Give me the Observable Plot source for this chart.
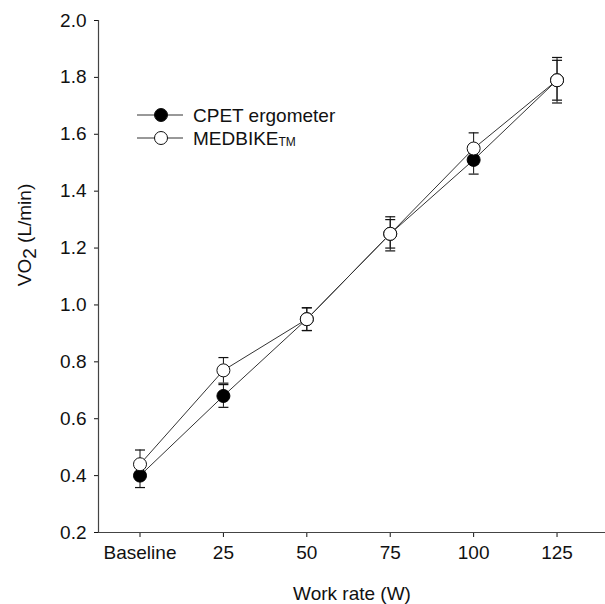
<!DOCTYPE html>
<html>
<head>
<meta charset="utf-8">
<script src="https://cdn.jsdelivr.net/npm/d3@7"></script>
<script src="https://cdn.jsdelivr.net/npm/@observablehq/plot@0.6"></script>
<style>
  html, body { margin: 0; padding: 0; background: #fff; }
  #chart { width: 605px; height: 604px; }
  svg { font-family: "Liberation Sans", Arial, Helvetica, sans-serif; }
</style>
</head>
<body>
<div id="chart"></div>
<script>
// ---- data ----
const categories = ["Baseline", "25", "50", "75", "100", "125"];
const cpetMean = [0.40, 0.68, 0.95, 1.25, 1.51, 1.79];
const cpetErr  = [0.042, 0.04, 0.04, 0.05, 0.05, 0.07];
const medMean  = [0.44, 0.77, 0.95, 1.25, 1.55, 1.79];
const medErr   = [0.05, 0.045, 0.04, 0.06, 0.055, 0.08];
const yTicks   = [0.2, 0.4, 0.6, 0.8, 1.0, 1.2, 1.4, 1.6, 1.8, 2.0];

const rows = [];
categories.forEach((c, i) => {
  rows.push({series: "MEDBIKE", i, c, v: medMean[i], lo: medMean[i] - medErr[i], hi: medMean[i] + medErr[i]});
});
categories.forEach((c, i) => {
  rows.push({series: "CPET", i, c, v: cpetMean[i], lo: cpetMean[i] - cpetErr[i], hi: cpetMean[i] + cpetErr[i]});
});
const cpet = rows.filter(d => d.series === "CPET");
const med = rows.filter(d => d.series === "MEDBIKE");

const capSymbol = { draw(ctx) { ctx.moveTo(-5, 0); ctx.lineTo(5, 0); } };
const xDomain = [-0.4976, 5.581];
const lineColor = "#333";

const plot = Plot.plot({
  width: 605,
  height: 604,
  marginLeft: 98,
  marginRight: 0,
  marginTop: 20,
  marginBottom: 72,
  style: { fontFamily: "Liberation Sans, Arial, sans-serif", fontSize: "19px", color: "#111", background: "#fff" },
  x: { type: "linear", domain: xDomain, ticks: d3.range(categories.length), tickFormat: i => categories[i], tickSize: 5, tickPadding: 8, label: null },
  y: { domain: [0.2, 2.0], ticks: yTicks, tickFormat: d3.format(".1f"), tickSize: 4, tickPadding: 8, label: null },
  marks: [
    Plot.ruleY([0.2], { stroke: "#444", strokeWidth: 1.2 }),
    Plot.ruleX([xDomain[0]], { stroke: "#444", strokeWidth: 1.2 }),
    // error bars
    Plot.ruleX(rows, { x: "i", y1: "lo", y2: "hi", stroke: "#111", strokeWidth: 1 }),
    Plot.dot(rows, { x: "i", y: "lo", symbol: capSymbol, stroke: "#111", strokeWidth: 1.2 }),
    Plot.dot(rows, { x: "i", y: "hi", symbol: capSymbol, stroke: "#111", strokeWidth: 1.2 }),
    // lines
    Plot.line(med, { x: "i", y: "v", stroke: lineColor, strokeWidth: 1 }),
    Plot.line(cpet, { x: "i", y: "v", stroke: lineColor, strokeWidth: 1 }),
    // points
    Plot.dot(cpet, { x: "i", y: "v", r: 6.5, fill: "#000", stroke: "#000", strokeWidth: 1 }),
    Plot.dot(med, { x: "i", y: "v", r: 6.5, fill: "#fff", stroke: "#111", strokeWidth: 1 })
  ]
});

document.getElementById("chart").appendChild(plot);

const svg = d3.select(plot);
svg.selectAll("[aria-label='x-axis tick label'] text, [aria-label='y-axis tick label'] text").attr("fill", "#111");

// y-axis label with subscript
const yl = svg.append("text")
  .attr("transform", "translate(31,235) rotate(-90)")
  .attr("text-anchor", "middle")
  .attr("font-size", 19)
  .attr("fill", "#111");
yl.append("tspan").text("VO");
yl.append("tspan").attr("dy", 5).attr("font-size", 19).text("2");
yl.append("tspan").attr("dy", -5).text(" (L/min)");

// x-axis label
svg.append("text")
  .attr("x", 352).attr("y", 600)
  .attr("text-anchor", "middle")
  .attr("font-size", 19)
  .attr("fill", "#111")
  .text("Work rate (W)");

// legend
const legend = [
  { name: "CPET ergometer", fill: "#000", sub: null, y: 115 },
  { name: "MEDBIKE", fill: "#fff", sub: "TM", y: 138 }
];
const lg = svg.append("g").attr("text-anchor", "start");
legend.forEach(l => {
  lg.append("line").attr("x1", 137).attr("x2", 183).attr("y1", l.y).attr("y2", l.y).attr("stroke", lineColor).attr("stroke-width", 1);
  lg.append("circle").attr("cx", 161).attr("cy", l.y).attr("r", 6.5).attr("fill", l.fill).attr("stroke", "#111").attr("stroke-width", 1);
  const t = lg.append("text").attr("x", 193).attr("y", l.y + 6.5).attr("text-anchor", "start").attr("font-size", 19).attr("fill", "#111");
  t.append("tspan").text(l.name);
  if (l.sub) t.append("tspan").attr("font-size", 12).attr("dy", 1).text(l.sub);
});
</script>
</body>
</html>
